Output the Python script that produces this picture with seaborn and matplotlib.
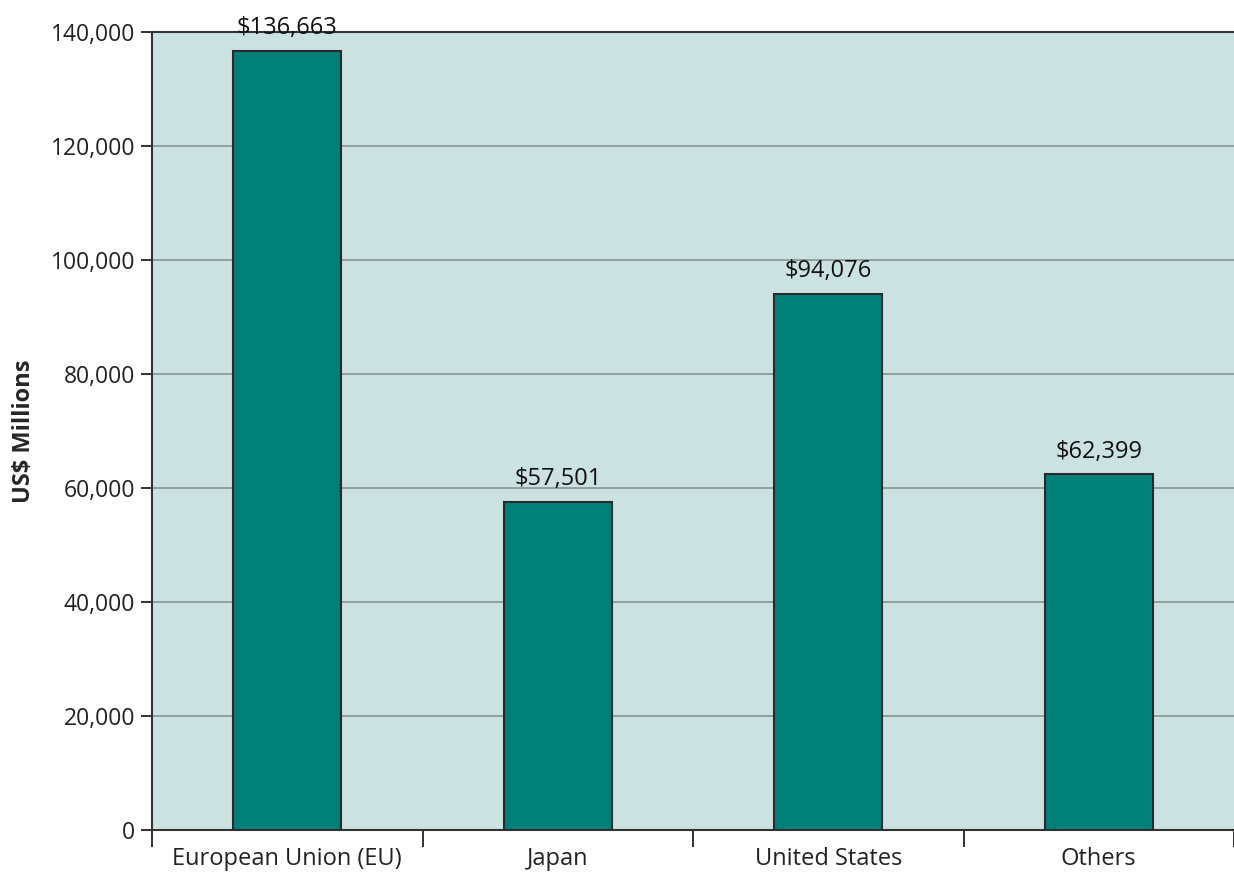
import matplotlib
matplotlib.use("Agg")
import matplotlib.pyplot as plt
import matplotlib.ticker as mticker
import seaborn as sns
import pandas as pd

regions = ["European Union (EU)", "Japan", "United States", "Others"]
values = [136663, 57501, 94076, 62399]
y_ticks = [0, 20000, 40000, 60000, 80000, 100000, 120000, 140000]

sns.set_theme(style="white")
plt.rcParams["font.family"] = ["Open Sans", "DejaVu Sans"]

df = pd.DataFrame({"region": regions, "value": values})

fig = plt.figure(figsize=(12.34, 8.74), dpi=100)
ax = fig.add_axes([0.1232, 0.0503, 0.8768, 0.9131])
ax.set_facecolor("#cce1e1")

sns.barplot(data=df, x="region", y="value", ax=ax, color="#007f78",
            width=0.4, edgecolor="#2a2a2a", linewidth=1.5, saturation=1, zorder=3)

ax.set_ylim(0, 140000)
ax.set_xlim(-0.5, len(regions) - 0.5)
ax.set_yticks(y_ticks)
ax.yaxis.set_major_formatter(mticker.FuncFormatter(lambda v, p: f"{int(v):,}"))
ax.yaxis.grid(True, color="#8c9999", linewidth=1.3, zorder=1)
ax.set_axisbelow(True)

for i, v in enumerate(values):
    ax.text(i, v + 1900, f"${v:,}", ha="center", va="bottom", fontsize=17,
            color="#111111", clip_on=False)

ax.set_xlabel("")
ax.set_ylabel("US$ Millions", fontsize=17, fontweight="bold", labelpad=11)

# category labels without marks; boundary marks as minor ticks
ax.tick_params(axis="x", which="major", bottom=False, length=0, labelsize=17, pad=12,
               labelcolor="#222222")
ax.set_xticks([-0.5, 0.5, 1.5, 2.5, 3.5], minor=True)
ax.tick_params(axis="x", which="minor", bottom=True, length=12, width=1.3,
               color="#222222", direction="out")
ax.tick_params(axis="y", which="major", left=True, length=8, width=1.3, color="#222222",
               labelsize=16.5, pad=4, labelcolor="#222222")

for side in ["left", "bottom", "top"]:
    ax.spines[side].set_visible(True)
    ax.spines[side].set_color("#333333")
    ax.spines[side].set_linewidth(1.5)
ax.spines["right"].set_visible(False)

fig.savefig("out.png", dpi=100)
